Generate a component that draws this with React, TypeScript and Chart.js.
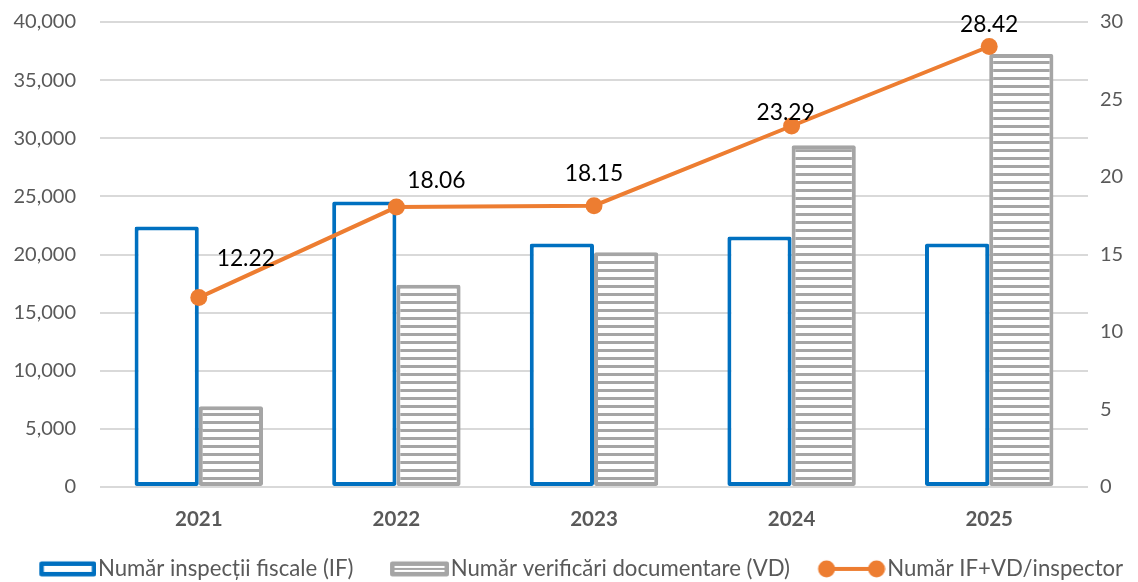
import React, { useEffect, useRef } from "react";
import { Chart, registerables } from "chart.js";

Chart.register(...registerables);

const categories = ["2021", "2022", "2023", "2024", "2025"];
const inspectiiIF = [22400, 24550, 20950, 21550, 20950];
const verificariVD = [6950, 17400, 20200, 29400, 37250];
const perInspector = [12.22, 18.06, 18.15, 23.29, 28.42];
const leftTicks = [0, 5000, 10000, 15000, 20000, 25000, 30000, 35000, 40000];
const rightTicks = [0, 5, 10, 15, 20, 25, 30];
const seriesNames = [
  "Număr inspecții fiscale (IF)",
  "Număr verificări documentare (VD)",
  "Număr IF+VD/inspector",
];

// label offsets from each point (style only)
const labelOffsets = [
  [47, -39],
  [40, -26],
  [0, -32],
  [-6, -13],
  [0, -22],
];

const FONT = "Lato, 'Open Sans', sans-serif";
const BLUE = "#0070C0";
const GRAY = "#A5A5A5";
const ORANGE = "#ED7D31";
const LEGEND_FS = 22.2;
const LEGEND_PAD = 14;
const BOX_W = 72;

function makeStripePattern(): CanvasPattern | string {
  const c = document.createElement("canvas");
  c.width = 8;
  c.height = 8;
  const ctx = c.getContext("2d")!;
  ctx.fillStyle = "#ffffff";
  ctx.fillRect(0, 0, 8, 8);
  ctx.fillStyle = GRAY;
  ctx.fillRect(0, 5, 8, 3);
  const p = ctx.createPattern(c, "repeat");
  return p || "#ffffff";
}

// icon canvas: content drawn right-aligned so it sits just before the text
function legendIcon(kind: number): HTMLCanvasElement {
  const c = document.createElement("canvas");
  const W = Math.round(BOX_W + LEGEND_FS - 3);
  const h = 22;
  c.width = W;
  c.height = h;
  const ctx = c.getContext("2d")!;
  const cy = h / 2;
  if (kind === 0 || kind === 1) {
    const vw = kind === 0 ? 57 : 59;
    const x0 = W - vw;
    ctx.strokeStyle = kind === 0 ? BLUE : GRAY;
    ctx.lineWidth = 4.5;
    ctx.lineJoin = "round";
    ctx.fillStyle = "#ffffff";
    ctx.fillRect(x0 + 2, cy - 5.5, vw - 4, 11);
    ctx.strokeRect(x0 + 2.25, cy - 5.25, vw - 4.5, 10.5);
    if (kind === 1) {
      ctx.lineWidth = 2;
      ctx.beginPath();
      ctx.moveTo(x0 + 3, cy);
      ctx.lineTo(W - 3, cy);
      ctx.stroke();
    }
  } else {
    const vw = 68;
    const x0 = W - vw;
    ctx.strokeStyle = ORANGE;
    ctx.lineWidth = 4;
    ctx.beginPath();
    ctx.moveTo(x0 + 9, cy);
    ctx.lineTo(W - 9, cy);
    ctx.stroke();
    ctx.fillStyle = ORANGE;
    ctx.beginPath();
    ctx.arc(x0 + 9, cy, 8.5, 0, Math.PI * 2);
    ctx.fill();
    ctx.beginPath();
    ctx.arc(W - 9, cy, 8.5, 0, Math.PI * 2);
    ctx.fill();
  }
  return c;
}

const lineLabels = {
  id: "lineLabels",
  afterLayout(chart: any) {
    if (chart.legend) {
      chart.legend.top += 8;
      chart.legend.bottom += 8;
    }
  },
  afterDatasetsDraw(chart: any) {
    const meta = chart.getDatasetMeta(0);
    const ctx = chart.ctx;
    ctx.save();
    ctx.font = `22.8px ${FONT}`;
    ctx.fillStyle = "#000000";
    ctx.textAlign = "center";
    ctx.textBaseline = "middle";
    meta.data.forEach((pt: any, i: number) => {
      const [dx, dy] = labelOffsets[i];
      ctx.fillText(perInspector[i].toFixed(2), pt.x + dx, pt.y + dy);
    });
    ctx.restore();
  },
};

const noVPad = (s: any) => {
  s.paddingTop = 0;
  s.paddingBottom = 0;
};

export default function App() {
  const ref = useRef<HTMLCanvasElement>(null);
  useEffect(() => {
    document.body.style.margin = "0";
    const pattern = makeStripePattern();
    const icons = [0, 1, 2].map((k) => legendIcon(k));
    const chart = new Chart(ref.current!, {
      data: {
        labels: categories,
        datasets: [
          {
            type: "line",
            label: seriesNames[2],
            data: perInspector,
            yAxisID: "y1",
            borderColor: ORANGE,
            backgroundColor: ORANGE,
            borderWidth: 4,
            pointRadius: 8.5,
            pointBorderWidth: 0,
            pointBackgroundColor: ORANGE,
            pointBorderColor: ORANGE,
            order: 0,
          } as any,
          {
            type: "bar",
            label: seriesNames[0],
            data: inspectiiIF,
            yAxisID: "y",
            backgroundColor: "#ffffff",
            borderColor: BLUE,
            borderWidth: 4,
            borderSkipped: false,
            borderRadius: 2,
            categoryPercentage: 0.65,
            barPercentage: 1,
            order: 1,
          },
          {
            type: "bar",
            label: seriesNames[1],
            data: verificariVD,
            yAxisID: "y",
            backgroundColor: pattern as any,
            borderColor: GRAY,
            borderWidth: 4,
            borderSkipped: false,
            borderRadius: 2,
            categoryPercentage: 0.65,
            barPercentage: 1,
            order: 1,
          },
        ],
      },
      options: {
        animation: false,
        responsive: true,
        maintainAspectRatio: false,
        layout: { autoPadding: false, padding: { top: 22, bottom: 0, left: 0, right: 0 } },
        plugins: {
          tooltip: { enabled: false },
          legend: {
            position: "bottom",
            labels: {
              usePointStyle: true,
              pointStyleWidth: BOX_W,
              boxHeight: LEGEND_FS,
              padding: LEGEND_PAD,
              color: "#595959",
              font: { family: FONT, size: LEGEND_FS },
              generateLabels: (ch: any) =>
                [1, 2, 0].map((di, k) => ({
                  text: ch.data.datasets[di].label,
                  datasetIndex: di,
                  pointStyle: icons[k],
                  fillStyle: "transparent",
                  strokeStyle: "transparent",
                  lineWidth: 0,
                  fontColor: "#595959",
                  hidden: false,
                })),
            },
          },
        },
        scales: {
          x: {
            grid: { display: false, drawTicks: false },
            border: { display: false },
            afterFit: (s: any) => {
              s.height = 48.8;
            },
            ticks: {
              color: "#595959",
              font: { family: FONT, size: 20.5, weight: "bold" },
              padding: 20,
            },
          },
          y: {
            position: "left",
            min: 0,
            max: 40000,
            afterBuildTicks: (s: any) => {
              s.ticks = leftTicks.map((v) => ({ value: v }));
            },
            afterFit: (s: any) => {
              s.width = 100;
              noVPad(s);
            },
            grid: { color: "#D9D9D9", lineWidth: 2, drawTicks: false },
            border: { display: false },
            ticks: {
              color: "#595959",
              font: { family: FONT, size: 20 },
              padding: 24,
              callback: (v: any) => Number(v).toLocaleString("en-US"),
            },
          },
          y1: {
            position: "right",
            min: 0,
            max: 30,
            afterBuildTicks: (s: any) => {
              s.ticks = rightTicks.map((v) => ({ value: v }));
            },
            afterFit: (s: any) => {
              s.width = 50;
              noVPad(s);
            },
            grid: { display: false, drawTicks: false },
            border: { display: false },
            ticks: {
              color: "#595959",
              font: { family: FONT, size: 20 },
              padding: 12,
            },
          },
        },
      },
      plugins: [lineLabels],
    } as any);
    return () => chart.destroy();
  }, []);
  return (
    <div style={{ position: "fixed", left: 0, top: 0, width: 1138, height: 582 }}>
      <canvas ref={ref} />
    </div>
  );
}
